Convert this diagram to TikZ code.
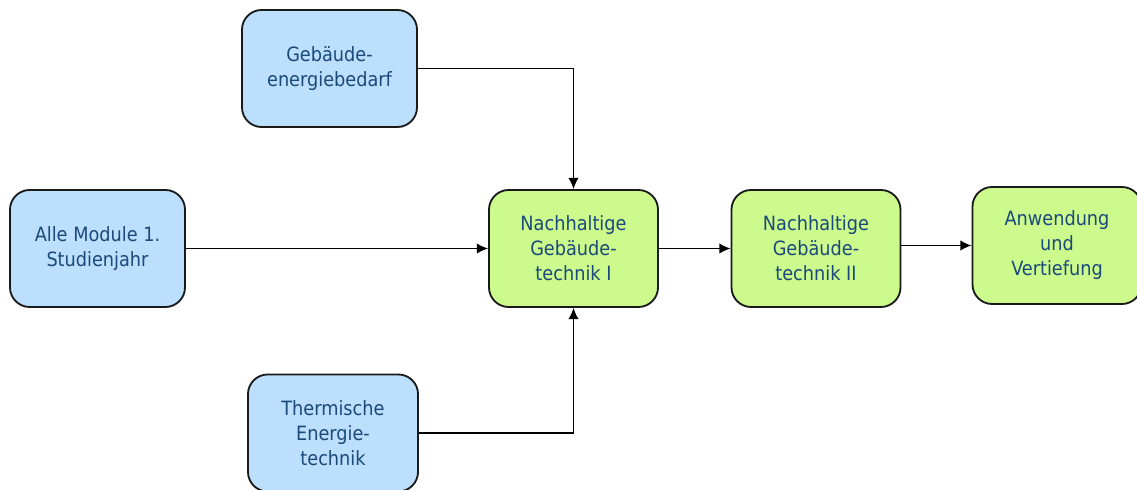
\documentclass[tikz,border=0pt]{standalone}
\usepackage{fontspec}
\setmainfont{DejaVu Sans Condensed}
\usetikzlibrary{arrows.meta, positioning}
\definecolor{prior-fill}{HTML}{BBDFFC}
\definecolor{module-fill}{HTML}{CCFA8C}
\definecolor{box-border}{HTML}{1A1A1A}
\definecolor{label-color}{HTML}{1B4A7A}
\definecolor{flow-color}{HTML}{000000}
\tikzset{
  prior-node/.style={
    draw=box-border, fill=prior-fill, rounded corners=14pt, line width=1.3pt,
    minimum width=4.375cm, minimum height=2.925cm, align=center,
    text=label-color, font=\fontsize{14}{17.8}\selectfont
  },
  module-node/.style={
    prior-node, fill=module-fill, minimum width=4.225cm
  },
  flow/.style={-{Latex[length=2.8mm, width=2.6mm]}, line width=1pt, draw=flow-color}
}

\begin{document}
\begin{tikzpicture}[x=0.025cm, y=-0.025cm]
  \useasboundingbox (0, 0) rectangle (1137, 490);
  \clip (0, 0) rectangle (1137, 490);

  \node[prior-node]  (gebaeude)   at (329.5, 68.5)  {Gebäude-\\energiebedarf};
  \node[prior-node]  (module)     at (97.5, 248.5)  {Alle Module 1.\\Studienjahr};
  \node[prior-node, minimum width=4.25cm]
                     (thermisch)  at (333, 433)     {Thermische\\Energie-\\technik};
  \node[module-node] (ngt1)       at (573.5, 248.5) {Nachhaltige\\Gebäude-\\technik I};
  \node[module-node] (ngt2)       at (816, 248.5)   {Nachhaltige\\Gebäude-\\technik II};
  \node[module-node] (anwendung)  at (1057, 245.5)  {Anwendung\\und\\Vertiefung};

  \draw[flow] (gebaeude.east) -| (ngt1.north);
  \draw[flow] (thermisch.east) -| (ngt1.south);
  \draw[flow] (module.east) -- (ngt1.west);
  \draw[flow] (ngt1.east) -- (ngt2.west);
  \draw[flow] (ngt2.east |- anwendung.west) -- (anwendung.west);
\end{tikzpicture}
\end{document}
